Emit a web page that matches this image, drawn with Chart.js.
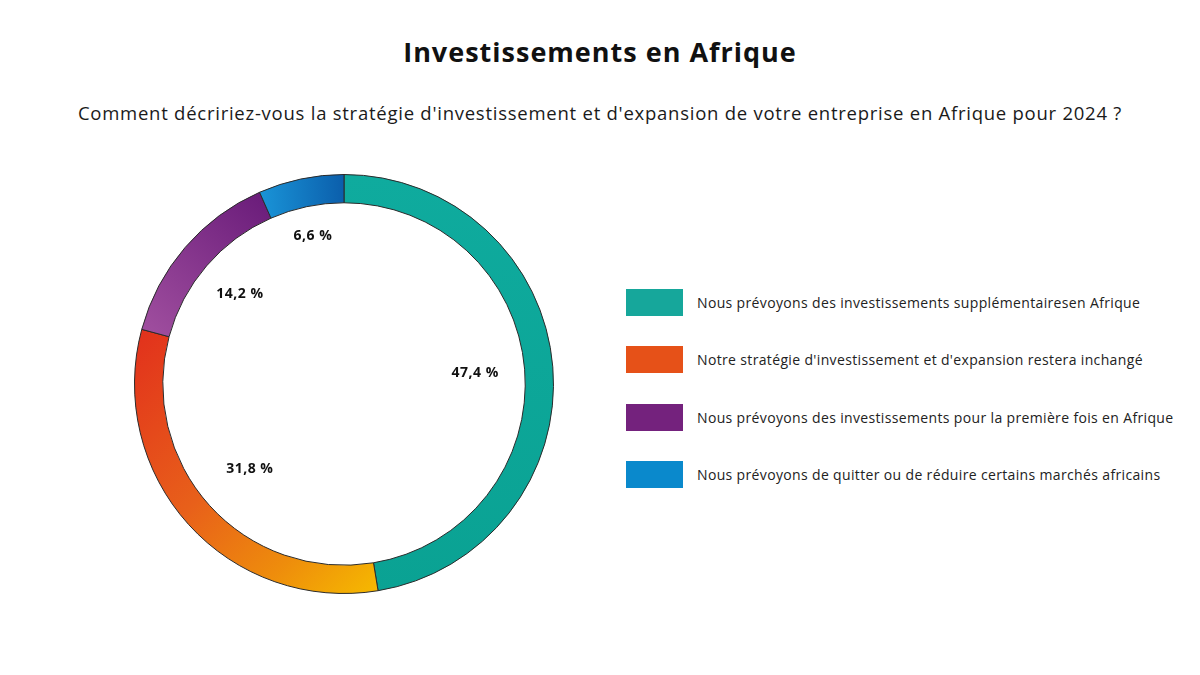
<!DOCTYPE html>
<html>
<head>
<meta charset="utf-8">
<script src="https://cdn.jsdelivr.net/npm/chart.js@4"></script>
<style>
  html, body { margin:0; padding:0; background:#fff; width:1200px; height:675px; overflow:hidden; }
  body { position:relative; font-family:"Open Sans", "Noto Sans", sans-serif; color:#111; }
  #title { position:absolute; left:0; width:1200px; top:33px; text-align:center; font-size:27px; font-weight:700; letter-spacing:1px; color:#111; }
  #subtitle { position:absolute; left:0; width:1200px; top:100px; text-align:center; font-size:18.5px; letter-spacing:0.75px; color:#1a1a1a; }
  #wrap { position:absolute; left:134px; top:174px; width:420px; height:420px; }
  #legend { position:absolute; left:626px; top:288px; margin:0; padding:0; list-style:none; }
  #legend li { display:flex; align-items:center; height:28px; margin-bottom:29.5px; font-size:14px; letter-spacing:0.35px; color:#222; white-space:nowrap; }
  #legend li span.box { display:inline-block; width:57px; height:27px; margin-right:14px; }
</style>
</head>
<body>
<div id="title">Investissements en Afrique</div>
<div id="subtitle">Comment décririez-vous la stratégie d'investissement et d'expansion de votre entreprise en Afrique pour 2024 ?</div>
<div id="wrap"><canvas id="c" width="420" height="420"></canvas></div>
<ul id="legend"></ul>
<script>
const categories = [
  "Nous prévoyons des investissements supplémentairesen Afrique",
  "Notre stratégie d'investissement et d'expansion restera inchangé",
  "Nous prévoyons des investissements pour la première fois en Afrique",
  "Nous prévoyons de quitter ou de réduire certains marchés africains"
];
const values = [47.4, 31.8, 14.2, 6.6];
const legendColors = ["#16a79b", "#e65118", "#74227d", "#0a89cc"];

function segGradient(ctx, i) {
  let g;
  if (i === 0) {
    g = ctx.createLinearGradient(210, 0, 210, 420);
    g.addColorStop(0, "#0fab9e"); g.addColorStop(1, "#0aa293");
  } else if (i === 1) {
    g = ctx.createLinearGradient(10, 160, 250, 415);
    g.addColorStop(0, "#e2331c"); g.addColorStop(0.45, "#e8601a"); g.addColorStop(0.75, "#ee8c0c"); g.addColorStop(1, "#f6ba00");
  } else if (i === 2) {
    g = ctx.createLinearGradient(130, 20, 10, 160);
    g.addColorStop(0, "#6a1c7a"); g.addColorStop(1, "#a04f9f");
  } else {
    g = ctx.createLinearGradient(128, 10, 210, 5);
    g.addColorStop(0, "#1992d6"); g.addColorStop(1, "#0b5eab");
  }
  return g;
}

const lg = document.getElementById('legend');
categories.forEach((c, i) => {
  const li = document.createElement('li');
  const b = document.createElement('span'); b.className = 'box'; b.style.background = legendColors[i];
  li.appendChild(b); li.appendChild(document.createTextNode(c));
  lg.appendChild(li);
});

const labelPlugin = {
  id: 'innerLabels',
  afterDatasetsDraw(chart) {
    const ctx = chart.ctx;
    const meta = chart.getDatasetMeta(0);
    ctx.save();
    ctx.font = "700 14px 'Open Sans', sans-serif";
    if ('letterSpacing' in ctx) ctx.letterSpacing = "0.5px";
    ctx.fillStyle = "#111";
    ctx.textAlign = "center";
    ctx.textBaseline = "middle";
    meta.data.forEach((arc, i) => {
      const p = arc.getProps(['x','y','startAngle','endAngle','innerRadius'], true);
      const mid = (p.startAngle + p.endAngle) / 2;
      const txt = values[i].toFixed(1).replace('.', ',') + " %";
      const hw = ctx.measureText(txt).width / 2, hh = 8;
      const c = Math.cos(mid), s = Math.sin(mid);
      // keep labels a fixed gap inside the ring; top labels sit a little higher
      const d = p.innerRadius - 26 - (Math.abs(c) * hw + Math.abs(s) * hh) - s * 8;
      ctx.fillText(txt, p.x + c * d, p.y + s * d);
    });
    ctx.restore();
  }
};

new Chart(document.getElementById('c'), {
  type: 'doughnut',
  data: {
    labels: categories,
    datasets: [{
      data: values,
      backgroundColor: (context) => segGradient(context.chart.ctx, context.dataIndex),
      borderColor: "#2b2b2b",
      borderWidth: 1,
      spacing: 0
    }]
  },
  options: {
    responsive: false,
    animation: false,
    cutout: '86.5%',
    layout: { padding: 0 },
    plugins: { legend: { display: false }, tooltip: { enabled: false } }
  },
  plugins: [labelPlugin]
});
</script>
</body>
</html>
